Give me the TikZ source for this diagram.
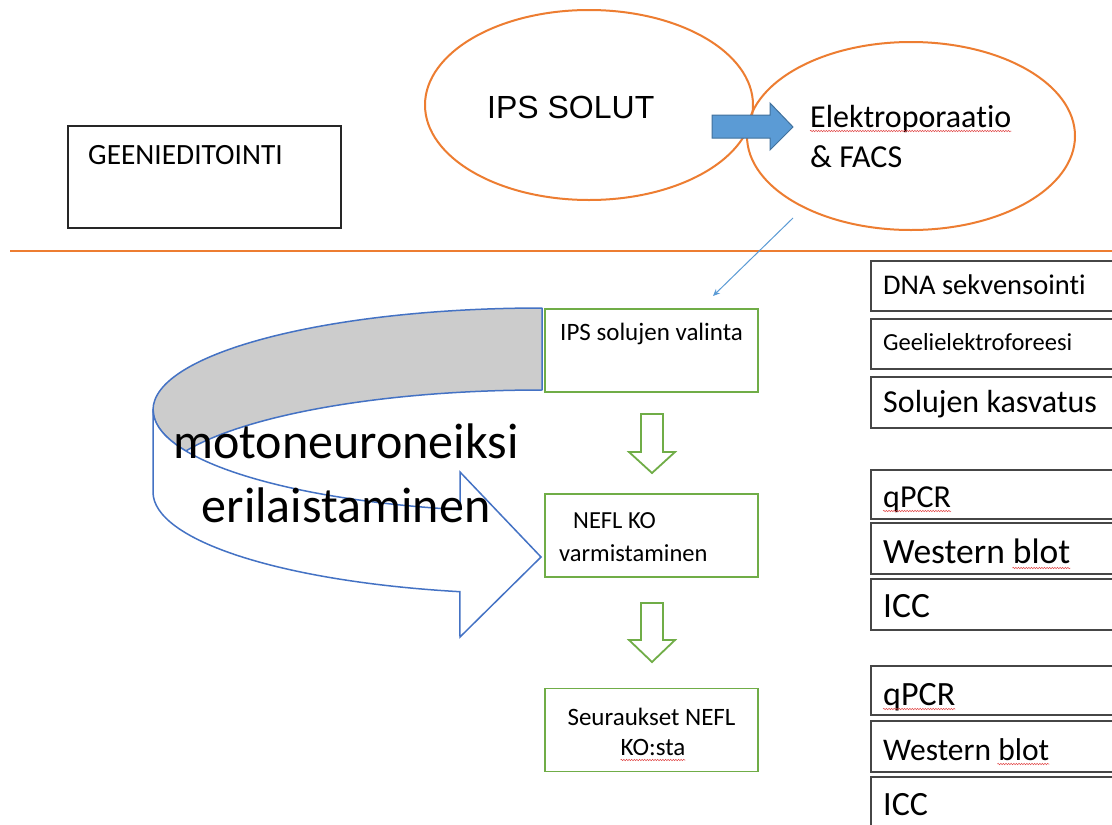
\documentclass[tikz,border=0pt]{standalone}
\usepackage{fontspec}
\setmainfont{Carlito}[Ligatures={NoCommon,NoContextual},Contextuals={NoAlternate},RawFeature={-dlig}]
\newfontfamily\arialf{Liberation Sans}
\usetikzlibrary{calc,shapes.geometric,arrows.meta,decorations.pathmorphing}
\definecolor{orng}{RGB}{237,125,49}
\definecolor{grn}{RGB}{112,173,71}
\definecolor{blu}{RGB}{68,114,196}
\definecolor{lblu}{RGB}{91,155,213}
\definecolor{dblu}{RGB}{65,113,156}
\definecolor{bandgray}{RGB}{204,204,204}
\definecolor{boxgray}{RGB}{70,70,70}
\definecolor{squigred}{RGB}{225,70,70}
\begin{document}
\begin{tikzpicture}[x=1pt,y=-1pt,
  oval/.style={ellipse, draw=orng, line width=2pt, inner sep=0},
  gbox/.style={draw=grn, line width=1.8pt, inner sep=0, minimum width=213pt, minimum height=83pt},
  rbox/.style={draw=boxgray, line width=1.5pt, inner sep=0, minimum width=260pt, anchor=north west},
  txt/.style={anchor=base west, inner sep=0},
  garrow/.style={draw=grn, line width=1.8pt, fill=white, line join=miter},
  squig/.style={draw=squigred, line width=0.5pt, decorate, decoration={snake, amplitude=0.7pt, segment length=2.6pt}}
]
\useasboundingbox (0,0) rectangle (1112,825);
\clip (0,0) rectangle (1112,825);
\fill[white] (0,0) rectangle (1112,825);

% top: ellipses
\node[oval, minimum width=328pt, minimum height=190pt] (e1) at (589,105) {};
\node[oval, minimum width=328pt, minimum height=188pt] (e2) at (911,136) {};
\node[txt, font=\arialf\fontsize{32}{38}\selectfont] (ips) at (487,118) {IPS SOLUT};
\node[txt, font=\fontsize{32}{40}\selectfont] (el1) at (810,127) {Elektroporaatio};
\node[txt, font=\fontsize{32}{40}\selectfont] (el2) at (810,167) {\& FACS};
\draw[squig] ($(el1.base west)+(0,4)$) -- ($(el1.base east)+(0,4)$);

% blue block arrow
\draw[fill=lblu, draw=dblu, line width=1pt, line join=miter]
  (712,115) -- (770,115) -- (770,103) -- (793,127) -- (770,150) -- (770,138) -- (712,138) -- cycle;

% GEENIEDITOINTI
\node[draw=black!85, line width=1.2pt, inner sep=0, minimum width=273pt, minimum height=102pt] (gee) at (204.5,177) {};
\node[txt, font=\fontsize{29.4}{34}\selectfont] (geet) at (88,164) {GEENIEDITOINTI};

% separator
\coordinate (sepL) at (10,251);
\coordinate (sepR) at (1112,251);
\draw[orng, line width=1.2pt] (sepL) -- (sepR);

% green flow boxes
\node[gbox] (b1) at (651.5,350.5) {};
\node[gbox] (b2) at (651.5,535.5) {};
\node[gbox] (b3) at (651.5,730) {};
\node[txt, font=\fontsize{25}{30}\selectfont] (b1t) at (560,340) {IPS solujen valinta};
\node[txt, font=\fontsize{24.5}{30}\selectfont] (b2t1) at (573,528) {NEFL KO};
\node[txt, font=\fontsize{24.5}{30}\selectfont] (b2t2) at (559,561) {varmistaminen};
\node[anchor=base, inner sep=0, font=\fontsize{25}{30}\selectfont] (b3t1) at (651.5,725) {Seuraukset NEFL};
\node[anchor=base, inner sep=0, font=\fontsize{25}{30}\selectfont] (b3t2) at (653,755) {KO:sta};
\draw[squig] ($(b3t2.base west)+(0,5)$) -- ($(b3t2.base east)+(0,5)$);

% thin blue connector
\coordinate (thinS) at (793,218);
\coordinate (thinE) at (713,296);
\draw[lblu, line width=1pt, -{Stealth[length=7pt,width=6pt]}] (thinS) -- (thinE);

% green block arrows
\draw[garrow] (641,414) -- (663,414) -- (663,452) -- (675,452) -- (652,473) -- (629,452) -- (641,452) -- cycle;
\draw[garrow] (641,603) -- (663,603) -- (663,640) -- (675,640) -- (652,662) -- (629,640) -- (641,640) -- cycle;

% curved arrow: back band (gray)
\filldraw[fill=bandgray, draw=blu, line width=1.5pt, line join=round]
  (542,308) arc[start angle=270, end angle=180, x radius=389, y radius=102]
            arc[start angle=180, end angle=156.3, x radius=389, y radius=102]
            arc[start angle=203.7, end angle=270, x radius=389, y radius=102] -- cycle;
% front band with head (white)
\filldraw[fill=white, draw=blu, line width=1.5pt, line join=miter]
  (153,410) -- (153,492)
  arc[start angle=180, end angle=102.2, x radius=389, y radius=102]
  -- (460,637) -- (541,557) -- (460,472) -- (460,509.7)
  arc[start angle=102.2, end angle=180, x radius=389, y radius=102] -- cycle;
\node[anchor=base, inner sep=0, font=\fontsize{50}{64}\selectfont] (mot1) at (346,458) {motoneuroneiksi};
\node[anchor=base, inner sep=0, font=\fontsize{50}{64}\selectfont] (mot2) at (346,522) {erilaistaminen};

% right method boxes
\node[rbox, minimum height=50pt] (r1) at (870,260) {};
\node[rbox, minimum height=50pt] (r2) at (870,318) {};
\node[rbox, minimum height=51pt] (r3) at (870,376) {};
\node[rbox, minimum height=49pt] (r4) at (870,469) {};
\node[rbox, minimum height=51pt] (r5) at (870,522) {};
\node[rbox, minimum height=51pt] (r6) at (870,578) {};
\node[rbox, minimum height=49pt] (r7) at (870,665) {};
\node[rbox, minimum height=51pt] (r8) at (870,720) {};
\node[rbox, minimum height=60pt] (r9) at (870,776) {};

\node[txt, font=\fontsize{28.5}{34}\selectfont] (r1t) at (883,294) {DNA sekvensointi};
\node[txt, font=\fontsize{24.5}{30}\selectfont] (r2t) at (883,350) {Geelielektroforeesi};
\node[txt, font=\fontsize{32}{38}\selectfont] (r3t) at (883,412) {Solujen kasvatus};
\node[txt, font=\fontsize{32}{38}\selectfont] (r4t) at (883,507) {qPCR};
\node[txt, font=\fontsize{35.5}{42}\selectfont] (r5t) at (883,563) {Western blot};
\node[txt, font=\fontsize{35.5}{42}\selectfont] (r6t) at (883,617) {ICC};
\node[txt, font=\fontsize{34}{40}\selectfont] (r7t) at (883,705) {qPCR};
\node[txt, font=\fontsize{31.5}{38}\selectfont] (r8t) at (883,760) {Western blot};
\node[txt, font=\fontsize{34}{40}\selectfont] (r9t) at (883,815) {ICC};

\draw[squig] ($(r4t.base west)+(0,4)$) -- ($(r4t.base east)+(0,4)$);
\draw[squig] ($(r7t.base west)+(0,4)$) -- ($(r7t.base east)+(0,4)$);
\draw[squig] ($(r5t.base east)+(-58,5)$) -- ($(r5t.base east)+(0,5)$);
\draw[squig] ($(r8t.base east)+(-52,4)$) -- ($(r8t.base east)+(0,4)$);
\end{tikzpicture}
\end{document}
